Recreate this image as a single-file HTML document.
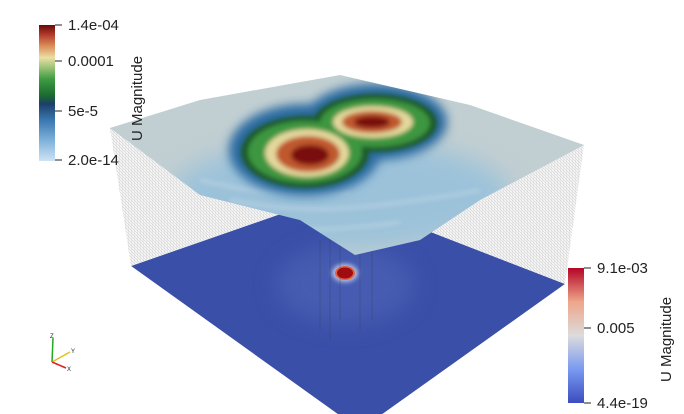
<!DOCTYPE html>
<html><head><meta charset="utf-8"><style>
body{margin:0;background:#fff;width:684px;height:414px;overflow:hidden;font-family:"Liberation Sans",sans-serif}
svg{display:block}
</style></head><body>
<svg width="684" height="414" viewBox="0 0 684 414">
<defs>
<linearGradient id="cbL" x1="0" y1="1" x2="0" y2="0">
<stop offset="0" stop-color="#cfe3f4"/><stop offset="0.15" stop-color="#7fb2db"/><stop offset="0.3" stop-color="#3a78b0"/><stop offset="0.42" stop-color="#1c3f6a"/><stop offset="0.48" stop-color="#1a6a30"/><stop offset="0.6" stop-color="#3e9a42"/><stop offset="0.7" stop-color="#a8c880"/><stop offset="0.76" stop-color="#ecdfa4"/><stop offset="0.85" stop-color="#d98a55"/><stop offset="0.93" stop-color="#b03a2a"/><stop offset="1" stop-color="#6a0808"/>
</linearGradient>
<linearGradient id="cbR" x1="0" y1="1" x2="0" y2="0">
<stop offset="0" stop-color="#3b4cc0"/><stop offset="0.25" stop-color="#7a9af0"/><stop offset="0.5" stop-color="#dcdcdc"/><stop offset="0.75" stop-color="#eea58a"/><stop offset="1" stop-color="#b40426"/>
</linearGradient>
<pattern id="mesh" width="3" height="3" patternUnits="userSpaceOnUse"><rect width="3" height="3" fill="#f4f4f4"/><path d="M0 0L3 3M3 0V3" stroke="#c8c8c8" stroke-width="0.5"/></pattern>
<filter id="b6" x="-50%" y="-50%" width="200%" height="200%"><feGaussianBlur stdDeviation="5"/></filter>
<filter id="b3" x="-50%" y="-50%" width="200%" height="200%"><feGaussianBlur stdDeviation="2.5"/></filter>
<filter id="b12" x="-50%" y="-50%" width="200%" height="200%"><feGaussianBlur stdDeviation="12"/></filter>
<clipPath id="topClip"><polygon points="110,128 200,100 340,75 470,105 584,145 480,200 420,240 355,255 300,220 200,195"/></clipPath>
<clipPath id="botClip"><polygon points="131,266 335,195 565,284 360,430"/></clipPath>
</defs>

<polygon points="110,128 340,75 335,195 131,266" fill="url(#mesh)"/>
<polygon points="340,75 584,145 565,284 335,195" fill="url(#mesh)"/>

<g clip-path="url(#botClip)">
<polygon points="131,266 335,195 565,284 360,430" fill="#3a4fa8"/>
<ellipse cx="345" cy="285" rx="70" ry="40" fill="#5a72c0" opacity="0.4" filter="url(#b12)"/>
<ellipse cx="345" cy="273" rx="13" ry="9" fill="#b8c4e4" filter="url(#b3)"/>
<ellipse cx="345" cy="273" rx="10" ry="7" fill="#e06040"/>
<ellipse cx="345" cy="273" rx="8" ry="5.5" fill="#a00c10"/>
</g>
<g stroke="#333" stroke-width="0.5" opacity="0.5"><path d="M320 240V330M330 238V340M340 245V320M360 240V330M372 236V320"/></g>

<g clip-path="url(#topClip)">
<rect x="100" y="70" width="500" height="200" fill="#c2cfd2"/>
<ellipse cx="340" cy="195" rx="170" ry="55" fill="#93bfdc" opacity="0.8" filter="url(#b12)"/>
<g stroke="#c8dbe6" stroke-width="3" fill="none" opacity="0.6" filter="url(#b3)">
<path d="M230 200Q300 215 380 205T480 190"/><path d="M250 225Q320 235 400 222"/><path d="M200 180Q280 200 350 192"/>
</g>
<g filter="url(#b6)">
<ellipse cx="305" cy="150" rx="76" ry="46" fill="#2b6aa0"/>
<ellipse cx="375" cy="122" rx="72" ry="38" fill="#2b6aa0"/>
</g>
<g filter="url(#b3)">
<ellipse cx="305" cy="152" rx="64" ry="36" fill="#1a5a2a"/>
<ellipse cx="375" cy="123" rx="62" ry="29" fill="#1a5a2a"/>
<ellipse cx="305" cy="152" rx="57" ry="31" fill="#3d9640"/>
<ellipse cx="375" cy="123" rx="55" ry="24" fill="#3d9640"/>
<ellipse cx="307" cy="153" rx="42" ry="24" fill="#e4d89c"/>
<ellipse cx="373" cy="122" rx="40" ry="16" fill="#e4d89c"/>
<ellipse cx="308" cy="154" rx="32" ry="18" fill="#c0582e"/>
<ellipse cx="372" cy="122" rx="30" ry="11" fill="#c0582e"/>
<ellipse cx="310" cy="155" rx="19" ry="10" fill="#7a1010"/>
<ellipse cx="372" cy="122" rx="18" ry="6" fill="#7a1010"/>
</g>
</g>

<g>
<rect x="39" y="25" width="16" height="136" fill="url(#cbL)"/>
<g stroke="#222" stroke-width="1"><path d="M55 25H62M55 61H62M55 111H62M55 160H62"/></g>
<g font-size="15" fill="#222">
<text x="68" y="30">1.4e-04</text><text x="68" y="66">0.0001</text><text x="68" y="116">5e-5</text><text x="68" y="165">2.0e-14</text>
</g>
<text transform="translate(142,141) rotate(-90)" font-size="15" fill="#222">U Magnitude</text>
</g>

<g>
<rect x="568" y="268" width="16" height="135" fill="url(#cbR)"/>
<g stroke="#222" stroke-width="1"><path d="M584 268H591M584 328H591M584 403H591"/></g>
<g font-size="15" fill="#222">
<text x="597" y="273">9.1e-03</text><text x="597" y="333">0.005</text><text x="597" y="408">4.4e-19</text>
</g>
<text transform="translate(671,382) rotate(-90)" font-size="15" fill="#222">U Magnitude</text>
</g>

<g stroke-width="1.5">
<line x1="52" y1="362" x2="53" y2="338" stroke="#22aa22"/>
<line x1="52" y1="362" x2="70" y2="352" stroke="#e0c020"/>
<line x1="52" y1="362" x2="66" y2="368" stroke="#dd2222"/>
<text x="50" y="338" font-size="6" fill="#222">Z</text><text x="71" y="353" font-size="6" fill="#222">Y</text><text x="67" y="371" font-size="6" fill="#222">X</text>
</g>
</svg>
</body></html>
